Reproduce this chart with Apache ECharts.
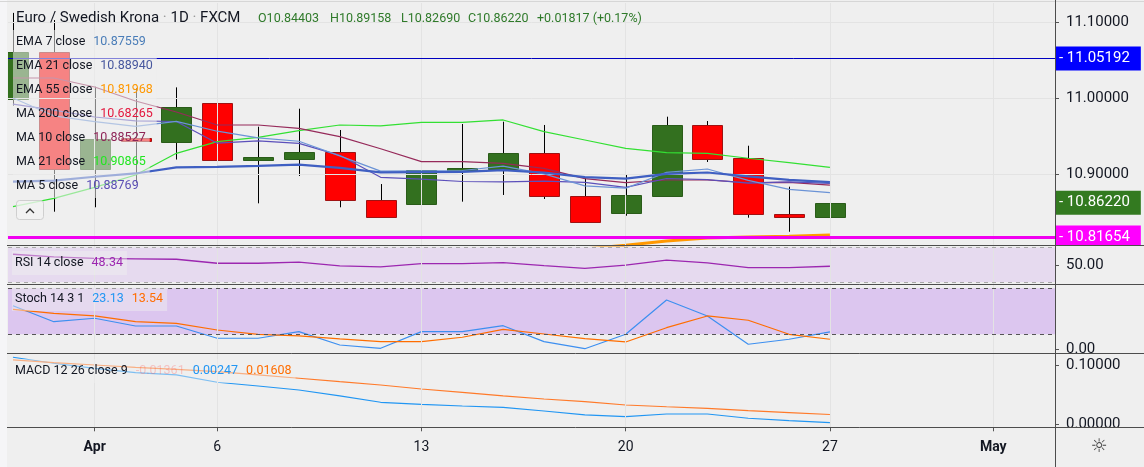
<!DOCTYPE html>
<html><head><meta charset="utf-8">
<script src="https://cdn.jsdelivr.net/npm/echarts@6/dist/echarts.min.js"></script>
<style>html,body{margin:0;padding:0;background:#efefef;}#c{width:1144px;height:467px;}</style>
</head><body><div id="c"></div>
<script>
// ---------- DATA ----------
const days = ['2020-03-30','2020-03-31','2020-04-01','2020-04-02','2020-04-03','2020-04-06','2020-04-07','2020-04-08','2020-04-09','2020-04-10','2020-04-13','2020-04-14','2020-04-15','2020-04-16','2020-04-17','2020-04-20','2020-04-21','2020-04-22','2020-04-23','2020-04-24','2020-04-27','2020-04-28','2020-04-29','2020-04-30','2020-05-01','2020-05-04','2020-05-05'];
const tickDays = ['2020-04-01','2020-04-06','2020-04-13','2020-04-20','2020-04-27','2020-05-01'];
const tickLabels = ['Apr','6','13','20','27','May'];

const opens  = [10.9987,11.0605,10.9062,10.9460,10.9425,10.9930,10.9184,10.9206,10.9294,10.8658,10.8601,10.9050,10.9062,10.9272,10.8711,10.8483,10.8714,10.9645,10.9207,10.8470,10.84403];
const closes = [11.0605,10.9062,10.9460,10.9440,10.9886,10.9175,10.9217,10.9294,10.8658,10.8438,10.9053,10.9060,10.9272,10.8701,10.8364,10.8724,10.9645,10.9202,10.8470,10.84403,10.86220];
const lows   = [10.9900,10.8504,10.8562,10.8880,10.9190,10.9096,10.8614,10.8974,10.8562,10.8430,10.8526,10.8636,10.8724,10.8671,10.8360,10.8451,10.8710,10.9158,10.8425,10.8240,10.82690];
const highs  = [11.1120,11.1026,11.0149,11.0132,11.0140,11.0333,10.9622,10.9859,10.9579,10.8868,10.9316,10.9658,10.9688,10.9645,10.8943,10.9000,10.9754,10.9697,10.9372,10.8833,10.89158];

const ema7  = [11.0000,10.9766,10.9690,10.9627,10.9692,10.9563,10.9476,10.9431,10.9238,10.9038,10.9042,10.9046,10.9103,10.9002,10.8843,10.8813,10.9021,10.9066,10.8917,10.8798,10.87559];
const ema21 = [10.8899,10.8914,10.8964,10.9007,10.9087,10.9095,10.9106,10.9123,10.9081,10.9022,10.9025,10.9028,10.9050,10.9019,10.8959,10.8938,10.9002,10.9020,10.8970,10.8922,10.88940];
const ema55 = [10.7700,10.7720,10.7740,10.7760,10.7780,10.7800,10.7820,10.7823,10.7853,10.7874,10.7905,10.7940,10.7975,10.7995,10.8015,10.8062,10.8118,10.8158,10.8171,10.8181,10.81968];
const ma10  = [11.0263,11.0263,11.0145,10.9961,10.9816,10.9645,10.9645,10.9601,10.9491,10.9332,10.9162,10.9162,10.9141,10.9075,10.8940,10.8886,10.8921,10.8921,10.8886,10.8890,10.88527];
const ma21  = [10.8570,10.8680,10.8825,10.8987,10.9272,10.9425,10.9483,10.9570,10.9645,10.9632,10.9680,10.9680,10.9711,10.9557,10.9447,10.9338,10.9280,10.9272,10.9207,10.9149,10.90865];
const ma5   = [10.9920,10.9840,10.9750,10.9700,10.9691,10.9405,10.9436,10.9402,10.9246,10.8956,10.8932,10.8901,10.8896,10.8905,10.8890,10.8824,10.8941,10.8927,10.8881,10.8896,10.88769];
const ma200Last = 10.68265;

const rsi    = [62.3,59.2,57.5,56.9,56.5,51.9,51.9,53.1,48.8,47.6,51.4,51.4,52.6,49.1,45.9,49.6,55.4,52.2,46.8,46.7,48.34];
const stochK = [57.3,36.4,40.9,30.8,30.8,14.8,14.8,23.4,6.0,1.7,23.4,23.4,31.2,10.4,1.2,20.0,64.7,43.9,7.0,13.5,23.13];
const stochD = [52.6,47.4,43.9,36.4,34.3,25.6,20.0,17.8,13.9,10.4,10.4,16.1,26.5,20.4,14.3,10.0,28.6,43.9,38.3,20.0,13.54];
const macd   = [0.1131,0.1029,0.0944,0.0869,0.0831,0.0707,0.0644,0.0576,0.0475,0.0368,0.0334,0.0305,0.0283,0.0220,0.0153,0.0124,0.0169,0.0169,0.0097,0.0056,0.00247];
const signal = [0.1085,0.1039,0.1000,0.0961,0.0927,0.0886,0.0831,0.0775,0.0717,0.0661,0.0593,0.0537,0.0475,0.0424,0.0378,0.0322,0.0292,0.0266,0.0225,0.0192,0.01608];

const blueLevel = 11.05192;
const magentaLevel = 10.81654;
const priceTicks = [10.9, 11.0, 11.1];
const rsiTicks = [50];
const stochTicks = [0];
const macdTicks = [0, 0.1];
const rsiBand = [30, 70];
const stochBand = [20, 80];

// ---------- CHART ----------
const FONT = 'Roboto, "Liberation Sans", sans-serif';
const TXT = '#131722';
const N = closes.length;
const tickIdx = tickDays.map(d => days.indexOf(d));
const pts = arr => arr.map((v, i) => [i, v]);
const XMIN = -0.122, XMAX = 25.51;

const grids = [
  {left: 8, right: 89, top: 3, height: 242},
  {left: 8, right: 89, top: 245, height: 39.3},
  {left: 8, right: 89, top: 284.3, height: 69},
  {left: 8, right: 89, top: 353.3, height: 74}
];
const xAxes = grids.map((g, k) => {
  const bottom = k === 3;
  return {
    type: 'value', gridIndex: k, min: XMIN, max: XMAX, position: 'bottom',
    axisLine: {show: false, onZero: false},
    splitLine: {show: false},
    axisTick: {show: bottom, customValues: tickIdx, length: 4, lineStyle: {color: '#555'}},
    axisLabel: {
      show: bottom, customValues: tickIdx, margin: 13, color: TXT, fontSize: 14, fontFamily: FONT,
      formatter: v => { const s = tickLabels[tickIdx.indexOf(Math.round(v))] || ''; return isNaN(+s) ? '{b|' + s + '}' : s; },
      rich: {b: {fontWeight: 'bold', fontSize: 14, fontFamily: FONT, color: TXT}}
    }
  };
});
function yAx(k, min, max, ticks, dec) {
  return {
    type: 'value', gridIndex: k, position: 'right', min, max,
    axisLine: {show: false, onZero: false}, splitLine: {show: false},
    axisTick: {show: true, customValues: ticks, length: 4, lineStyle: {color: '#555'}},
    axisLabel: {customValues: ticks, formatter: v => v.toFixed(dec), color: TXT, fontSize: 15, fontFamily: FONT, margin: 11}
  };
}
const yAxes = [
  yAx(0, 10.80658, 11.125, priceTicks, 5),
  yAx(1, 27.4, 73, rsiTicks, 2),
  yAx(2, -4.8, 85.2, stochTicks, 2),
  yAx(3, -0.0056, 0.1198, macdTicks, 5)
];

function gridSeries(k, hVals, band, bandColor, dashColor) {
  const data = tickIdx.map(v => ({xAxis: v}));
  (hVals || []).forEach(v => data.push({yAxis: v}));
  const s = {
    type: 'line', xAxisIndex: k, yAxisIndex: k, data: [], z: 0, silent: true, animation: false,
    markLine: {silent: true, animation: false, symbol: ['none', 'none'], label: {show: false},
      lineStyle: {color: '#e3e3e3', width: 1, type: 'solid'}, data}
  };
  if (band) {
    s.markArea = {silent: true, animation: false, label: {show: false}, itemStyle: {color: bandColor}, data: [[{yAxis: band[0]}, {yAxis: band[1]}]]};
    band.forEach(v => data.push({yAxis: v, lineStyle: {color: dashColor, type: [4, 4], width: 1}}));
  }
  return s;
}
function lineS(k, arr, color, width, z) {
  return {type: 'line', xAxisIndex: k, yAxisIndex: k, data: pts(arr), symbol: 'none', showSymbol: false,
    lineStyle: {color, width}, z: z || 3, silent: true, animation: false};
}

function renderCandle(params, api) {
  const i = api.value(0), o = api.value(1), c = api.value(2), l = api.value(3), h = api.value(4);
  const pH = api.coord([i, h]), pL = api.coord([i, l]), pO = api.coord([i, o]), pC = api.coord([i, c]);
  const w = Math.round(api.size([1, 0])[0] * 0.74);
  const x = Math.round(pH[0]);
  const up = c >= o;
  let top = Math.min(pO[1], pC[1]), bot = Math.max(pO[1], pC[1]);
  if (bot - top < 3) { const m = (top + bot) / 2; top = m - 1.5; bot = m + 1.5; }
  return {type: 'group', children: [
    {type: 'line', shape: {x1: x + 0.5, y1: pH[1], x2: x + 0.5, y2: pL[1]}, style: {stroke: '#000', lineWidth: 1}},
    {type: 'rect', shape: {x: x - Math.floor(w / 2) + 0.5, y: Math.round(top) + 0.5, width: w, height: Math.max(Math.round(bot - top), 2)},
      style: {fill: up ? '#33701f' : '#ff0000', stroke: up ? '#2a5c19' : '#a01212', lineWidth: 1}}
  ]};
}

function badge(value, lineStyle, bg) {
  return {yAxis: value, lineStyle, label: {backgroundColor: bg, formatter: '- ' + value.toFixed(5)}};
}

const series = [
  gridSeries(0, priceTicks),
  {type: 'custom', xAxisIndex: 0, yAxisIndex: 0, z: 2, clip: true, animation: false, silent: true,
    data: closes.map((c, i) => [i, opens[i], c, lows[i], highs[i]]),
    encode: {x: 0, y: [1, 2, 3, 4]}, renderItem: renderCandle},
  lineS(0, ema55, '#ff9800', 3, 3),
  {type: 'line', xAxisIndex: 0, yAxisIndex: 0, data: [], z: 4, silent: true, animation: false,
    markLine: {silent: true, animation: false, precision: 5, symbol: ['none', 'none'],
      label: {show: true, position: 'end', distance: 1, color: '#fff', fontSize: 15, fontFamily: FONT,
        padding: [4, 11, 4, 3], lineHeight: 16},
      data: [
        badge(blueLevel, {color: '#0000c0', width: 1, type: 'solid'}, '#0000ff'),
        badge(magentaLevel, {color: '#f000f0', width: 3, type: 'solid'}, '#ff00ff'),
        badge(closes[N - 1], {color: 'rgba(0,0,0,0)', width: 1, type: 'solid'}, '#337a20')
      ]}},
  lineS(0, ma21, '#33e033', 1.2, 5),
  lineS(0, ma10, '#962a5a', 1.2, 5),
  lineS(0, ma5, '#5c50bb', 1.2, 5),
  lineS(0, ema7, '#6b93d6', 1.2, 5),
  lineS(0, ema21, '#3f5fc2', 2.2, 5),

  gridSeries(1, [], rsiBand, '#e6daef', '#a8a8a8'),
  lineS(1, rsi, '#9c27b0', 1.4),

  gridSeries(2, [], stochBand, '#dcc6ef', '#555555'),
  lineS(2, stochK, '#3d8ff0', 1.2),
  lineS(2, stochD, '#ff6d00', 1.2),

  gridSeries(3, []),
  lineS(3, macd, '#2196f3', 1.2),
  lineS(3, signal, '#ff7a2a', 1.2)
];

// ---------- LEGENDS / DECOR ----------
const G = [];
const last = N - 1;
const prevClose = closes[N - 2];
const chg = closes[last] - prevClose;
G.push({type: 'rect', z: 100, silent: true, shape: {x: 0, y: 0, width: 7, height: 467}, style: {fill: '#f5f5f7'}});
G.push({type: 'line', z: 100, silent: true, shape: {x1: 0, y1: 1.5, x2: 1144, y2: 1.5}, style: {stroke: '#d6d6d6', lineWidth: 1}});
G.push({type: 'text', z: 100, silent: true, x: 16, y: 18, style: {
  text: '{t|Euro / Swedish Krona}{d| · }{t|1D}{d| · }{t|FXCM}', verticalAlign: 'middle',
  rich: {t: {fill: TXT, fontSize: 15, fontFamily: FONT}, d: {fill: '#999', fontSize: 15, fontFamily: FONT}}}});
const ohlc = [['O', opens[last]], ['H', highs[last]], ['L', lows[last]], ['C', closes[last]]];
const ohlcX = [258, 330, 401, 468];
ohlc.forEach((p, k) => G.push({type: 'text', z: 100, silent: true, x: ohlcX[k], y: 19, style: {
  text: p[0] + p[1].toFixed(5), fill: '#2f7a2a', fontSize: 12.5, fontFamily: FONT, verticalAlign: 'middle'}}));
G.push({type: 'text', z: 100, silent: true, x: 537, y: 19, style: {
  text: (chg >= 0 ? '+' : '') + chg.toFixed(5) + ' (' + (chg >= 0 ? '+' : '') + (chg / prevClose * 100).toFixed(2) + '%)',
  fill: '#2f7a2a', fontSize: 12.5, fontFamily: FONT, verticalAlign: 'middle'}});

const rows = [
  ['EMA 7 close', ema7[last], '#4a7db8'],
  ['EMA 21 close', ema21[last], '#47579e'],
  ['EMA 55 close', ema55[last], '#ff9800'],
  ['MA 200 close', ma200Last, '#e3173e'],
  ['MA 10 close', ma10[last], '#8e2456'],
  ['MA 21 close', ma21[last], '#22e622'],
  ['MA 5 close', ma5[last], '#5b4fb5']
];
function legendText(x, y, parts, bg) {
  const rich = {};
  let text = '';
  parts.forEach((p, k) => {
    rich['p' + k] = {fill: p[1], fontSize: 12.5, fontFamily: FONT, lineHeight: 18, padding: [0, 0, 0, k ? 8 : 0]};
    text += '{p' + k + '|' + p[0] + '}';
  });
  return {type: 'text', z: 101, silent: true, x, y, style: {text, rich, backgroundColor: bg, padding: [3, 4, 3, 3], verticalAlign: 'top'}};
}
rows.forEach((r, k) => G.push(legendText(13, 30 + 24 * k, [[r[0], TXT], [r[1].toFixed(5), r[2]]], 'rgba(239,239,239,0.55)')));
// collapse button
G.push({type: 'rect', z: 101, silent: true, shape: {x: 16.5, y: 200.5, width: 27, height: 19, r: 3}, style: {fill: 'rgba(242,242,242,0.8)', stroke: '#cfcfcf', lineWidth: 1}});
G.push({type: 'polyline', z: 102, silent: true, shape: {points: [[26, 213], [30, 209], [34, 213]]}, style: {stroke: '#333', lineWidth: 1.3, fill: null}});

G.push(legendText(12, 251, [['RSI 14 close', TXT], [rsi[last].toFixed(2), '#9c27b0']], 'rgba(239,239,239,0.45)'));
G.push(legendText(12, 287, [['Stoch 14 3 1', TXT], [stochK[last].toFixed(2), '#2196f3'], [stochD[last].toFixed(2), '#ff6d00']], 'rgba(239,239,239,0.45)'));
G.push(legendText(12, 359, [['MACD 12 26 close 9', TXT], [(macd[last] - signal[last]).toFixed(5), 'rgba(255,90,90,0.3)'], [macd[last].toFixed(5), '#2196f3'], [signal[last].toFixed(5), '#ff6d00']], 'rgba(239,239,239,0.45)'));

// cover to clip magenta badge at pane border
G.push({type: 'rect', z: 100, silent: true, shape: {x: 1056, y: 245.5, width: 88, height: 6}, style: {fill: '#efefef'}});
// separators & axis line
[245.5, 284.5, 353.5, 427.5].forEach(y => G.push({type: 'line', z: 103, silent: true, shape: {x1: 7, y1: y, x2: 1144, y2: y}, style: {stroke: '#4d4d4d', lineWidth: 1}}));
G.push({type: 'line', z: 103, silent: true, shape: {x1: 1055.5, y1: 0, x2: 1055.5, y2: 467}, style: {stroke: '#4d4d4d', lineWidth: 1}});
G.push({type: 'text', z: 103, silent: true, x: 1099, y: 447, style: {text: '☼', fill: '#444', fontSize: 19, fontFamily: '"DejaVu Sans"', align: 'center', verticalAlign: 'middle'}});

const chart = echarts.init(document.getElementById('c'), null, {renderer: 'canvas'});
chart.setOption({
  backgroundColor: '#efefef',
  animation: false,
  grid: grids,
  xAxis: xAxes,
  yAxis: yAxes,
  series,
  graphic: {elements: G}
});
</script></body></html>
